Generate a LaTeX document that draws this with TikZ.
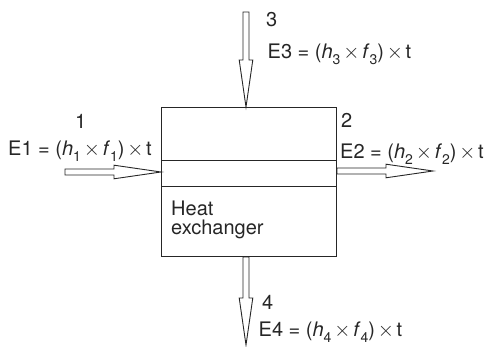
\documentclass[tikz,border=0pt]{standalone}
\usepackage{fontspec}
\setmainfont{TeX Gyre Heros}
\usetikzlibrary{calc}
\newcommand\sbs[1]{\raisebox{-0.3em}{\fontsize{14}{14}\selectfont #1}}
\newcommand\tms{\hspace{0.14em}$\times$\hspace{0.14em}}
\newcommand\hollowarr[2]{%
  \draw[arrline] ($(#1)!3pt!90:(#2)$) -- ($(#2)!47pt!(#1)!3pt!90:(#2)$)
    -- ($(#2)!47pt!(#1)!6.8pt!90:(#2)$) -- (#2)
    -- ($(#2)!47pt!(#1)!6.8pt!-90:(#2)$) -- ($(#2)!47pt!(#1)!3pt!-90:(#2)$)
    -- ($(#1)!3pt!-90:(#2)$) -- cycle;}
\begin{document}
\begin{tikzpicture}[x=1pt,y=-1pt,
  every node/.style={font=\fontsize{20}{20}\selectfont, inner sep=0pt, text=black!85},
  arrline/.style={draw=black!85, line width=0.9pt, line join=miter},
  boxline/.style={draw=black!85, line width=0.9pt}]
\useasboundingbox (0,0) rectangle (488,347);
% heat exchanger
\node[boxline, anchor=north west, minimum width=175pt, minimum height=149pt] (hx) at (161,107) {};
\draw[boxline] ($(hx.north west)+(0,53)$) -- ($(hx.north east)+(0,53)$);
\draw[boxline] ($(hx.north west)+(0,79)$) -- ($(hx.north east)+(0,79)$);
\node[anchor=base west] (heat) at (171,215.7) {Heat};
\node[anchor=base west] (exch) at (171,235) {exchanger};
% streams
\coordinate (s1) at (65,172);
\coordinate (s2) at (433,171);
\coordinate (s3) at (246,12);
\coordinate (s4) at (246,345);
\hollowarr{s1}{hx.west |- s1}
\hollowarr{hx.east |- s2}{s2}
\hollowarr{s3}{s3 |- hx.north}
\hollowarr{s4 |- hx.south}{s4}
% labels
\node[anchor=base west] (n1) at (75,129) {1};
\node[anchor=base west] (n2) at (341,128) {2};
\node[anchor=base west] (n3) at (266,27) {3};
\node[anchor=base west] (n4) at (262,310) {4};
\node[anchor=base west] (e1) at (8,156) {E1 = (\textit{h}\sbs{1}\tms\textit{f}\sbs{1})\tms t};
\node[anchor=base west] (e2) at (340,158.3) {E2 = (\textit{h}\sbs{2}\tms\textit{f}\sbs{2})\tms t};
\node[anchor=base west] (e3) at (267.5,58.5) {E3 = (\textit{h}\sbs{3}\tms\textit{f}\sbs{3})\tms t};
\node[anchor=base west] (e4) at (258.5,336.7) {E4 = (\textit{h}\sbs{4}\tms\textit{f}\sbs{4})\tms t};
\end{tikzpicture}
\end{document}
